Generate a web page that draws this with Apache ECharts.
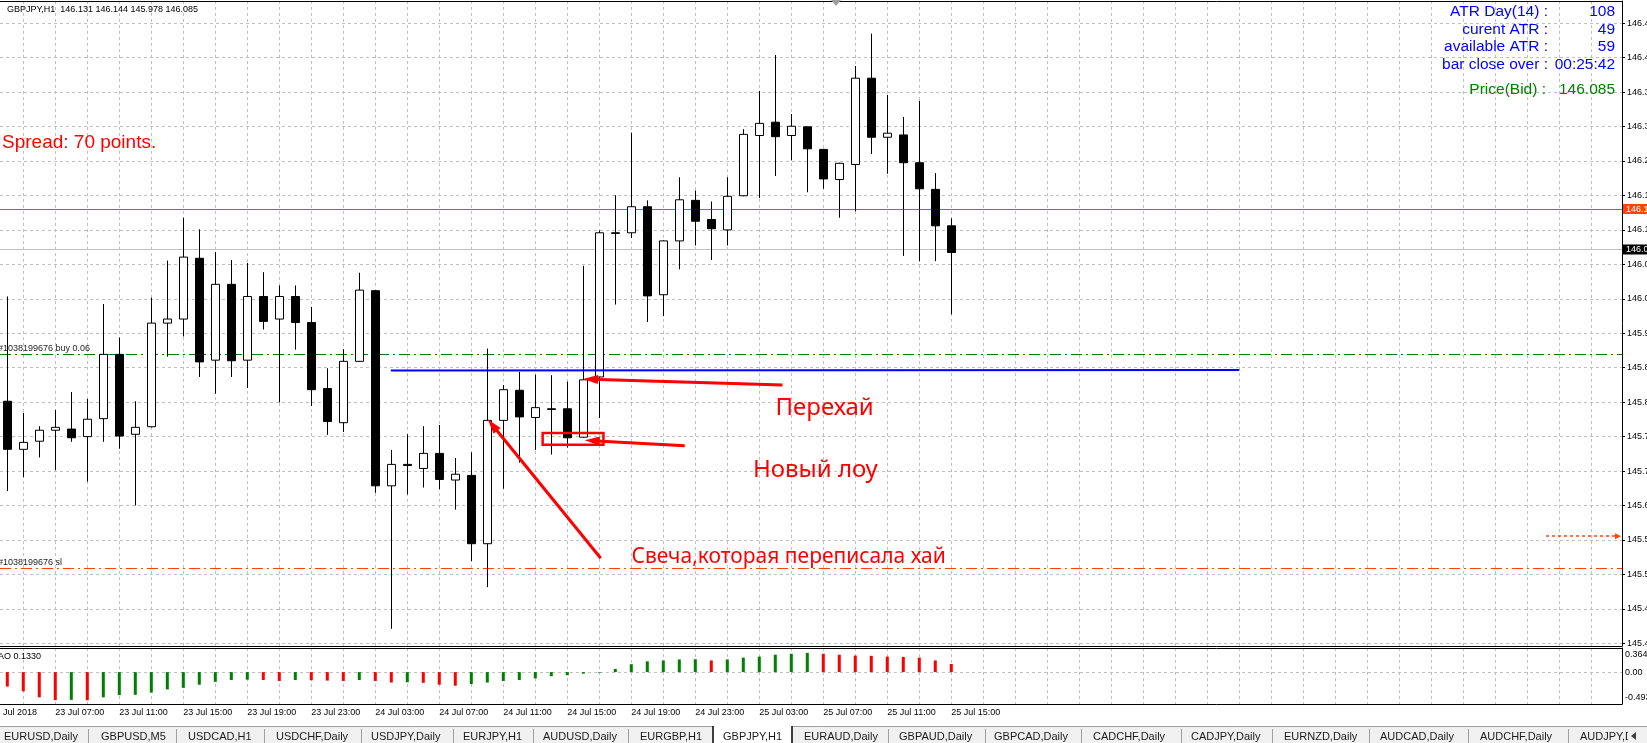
<!DOCTYPE html>
<html>
<head>
<meta charset="utf-8">
<script src="https://cdn.jsdelivr.net/npm/echarts@6/dist/echarts.min.js"></script>
<style>
  html, body { margin: 0; padding: 0; background: #fff; overflow: hidden; }
  #chart { width: 1647px; height: 743px; }
</style>
</head>
<body>
<div id="chart"></div>
<script>
// GBPJPY H1, bar 0 = 23 Jul 04:00
const opens  = [145.828,145.745,145.759,145.778,145.780,145.767,145.798,145.909,145.771,145.784,
                145.963,145.970,146.075,145.899,146.030,145.899,146.009,145.970,146.009,145.964,
                145.850,145.791,145.897,146.019,145.682,145.719,145.712,145.738,145.692,145.700,
                145.582,145.795,145.847,145.800,145.815,145.815,145.766,145.870,146.119,146.119,
                146.164,146.012,146.105,146.175,146.142,146.124,146.183,146.287,146.310,146.287,
                146.302,146.263,146.211,146.237,146.386,146.284,146.288,146.240,146.194,146.131];
const highs  = [146.009,145.808,145.785,145.813,145.844,145.832,145.996,145.938,145.828,146.007,
                146.071,146.145,146.125,146.086,146.072,146.067,146.051,146.028,146.028,145.991,
                145.885,145.918,146.050,146.020,145.744,145.771,145.785,145.787,145.730,145.740,
                145.919,145.856,145.879,145.874,145.873,145.862,146.062,146.123,146.184,146.292,
                146.175,146.106,146.215,146.192,146.173,146.215,146.298,146.364,146.426,146.324,
                146.303,146.264,146.240,146.407,146.463,146.357,146.319,146.347,146.222,146.144];
const lows   = [145.673,145.697,145.731,145.709,145.758,145.689,145.758,145.746,145.648,145.783,
                145.905,145.940,145.870,145.841,145.870,145.851,145.952,145.826,145.917,145.820,
                145.770,145.775,145.896,145.670,145.435,145.667,145.679,145.676,145.641,145.552,
                145.507,145.677,145.722,145.744,145.736,145.748,145.765,145.799,145.995,146.110,
                145.965,145.975,146.056,146.097,146.072,146.097,146.182,146.179,146.217,146.244,
                146.189,146.195,146.145,146.156,146.255,146.221,146.079,146.070,146.070,145.978];
const closes = [145.745,145.757,145.778,145.783,145.765,145.797,145.909,145.768,145.783,145.963,
                145.970,146.077,145.896,146.030,145.898,146.009,145.966,146.009,145.964,145.848,
                145.793,145.897,146.020,145.682,145.719,145.717,145.738,145.693,145.702,145.582,
                145.795,145.848,145.801,145.817,145.814,145.765,145.865,146.119,146.118,146.164,
                146.010,146.105,146.176,146.139,146.126,146.182,146.289,146.308,146.285,146.303,
                146.264,146.212,146.239,146.386,146.284,146.291,146.240,146.195,146.131,146.085];

// Awesome Oscillator
const aoPrevValue = -0.20;
const aoValues = [-0.239,-0.317,-0.416,-0.462,-0.458,-0.465,-0.416,-0.380,-0.375,-0.338,
                  -0.286,-0.260,-0.208,-0.161,-0.130,-0.125,-0.130,-0.146,-0.130,-0.135,
                  -0.140,-0.146,-0.130,-0.146,-0.172,-0.168,-0.177,-0.208,-0.224,-0.198,
                  -0.172,-0.146,-0.130,-0.104,-0.068,-0.052,-0.026,-0.010, 0.052, 0.130,
                   0.177, 0.192, 0.208, 0.212, 0.192, 0.208, 0.239, 0.255, 0.286, 0.302,
                   0.317, 0.302, 0.286, 0.272, 0.268, 0.255, 0.250, 0.239, 0.192, 0.133];

const timeTicks  = [3, 7, 11, 15, 19, 23, 27, 31, 35, 39, 43, 47, 51, 55, 59];
const timeLabels = ['23 Jul 07:00','23 Jul 11:00','23 Jul 15:00','23 Jul 19:00','23 Jul 23:00',
                    '24 Jul 03:00','24 Jul 07:00','24 Jul 11:00','24 Jul 15:00','24 Jul 19:00',
                    '24 Jul 23:00','25 Jul 03:00','25 Jul 07:00','25 Jul 11:00','25 Jul 15:00'];
const priceTicks = [145.410,145.4695,145.529,145.5885,145.648,145.7075,145.767,145.8265,145.886,145.9455,
                    146.005,146.0645,146.124,146.1835,146.243,146.3025,146.362,146.4215,146.481];
const aoTicks = [-0.493, 0, 0.364];

const bidPrice = 146.085, askPrice = 146.155;
const buyPrice = 145.914, slPrice = 145.538;
const trendX = [23.97, 77.0];
const trendY = [145.881, 145.882];

// axis ranges (16 px per bar, first bar at x=7.3)
const X_MIN = -0.45625, X_MAX = 100.91875;
const Y_MIN = 145.40534, Y_MAX = 146.51933;
const AO_MIN = -0.52596, AO_MAX = 0.39696;

const gridX = [];
for (let i = 1; i < 101; i += 2) gridX.push(i);

const candleRows = opens.map((o, i) => [i, o, closes[i], lows[i], highs[i]]);
const aoRows = aoValues.map((v, i) => {
  const prev = i === 0 ? aoPrevValue : aoValues[i - 1];
  return { value: [i, v], itemStyle: { color: v > prev ? '#008000' : '#ff0000' } };
});
const timeMap = {};
timeTicks.forEach((t, k) => { timeMap[t] = timeLabels[k]; });

const FONT = 'Liberation Sans';
const GRID_LINE = { color: '#c0c0c0', width: 1, type: [3, 3] };
const DASH_DOT = [11, 4, 2, 4];

const chart = echarts.init(document.getElementById('chart'));

const infoText = (txt, x, y, color, align) => ({
  type: 'text', x: x, y: y, z: 100,
  style: { text: txt, fill: color, font: '15.5px "' + FONT + '"', align: align, verticalAlign: 'middle' }
});

const tabs = [
  ['EURUSD,Daily', 4], ['GBPUSD,M5', 101], ['USDCAD,H1', 188], ['USDCHF,Daily', 276],
  ['USDJPY,Daily', 371], ['EURJPY,H1', 463], ['AUDUSD,Daily', 543], ['EURGBP,H1', 640],
  ['GBPJPY,H1', 723], ['EURAUD,Daily', 804], ['GBPAUD,Daily', 899], ['GBPCAD,Daily', 994],
  ['CADCHF,Daily', 1093], ['CADJPY,Daily', 1191], ['EURNZD,Daily', 1284], ['AUDCAD,Daily', 1380],
  ['AUDCHF,Daily', 1480], ['AUDJPY,Daily', 1580]
];
const tabSeps = [88, 176, 264, 361, 453, 533, 628, 888, 985, 1081, 1181, 1272, 1369, 1468, 1568];

const graphics = [
  { type: 'text', x: 7, y: 10, z: 100,
    style: { text: 'GBPJPY,H1  146.131 146.144 145.978 146.085', fill: '#000', font: '9px "' + FONT + '"', verticalAlign: 'middle' } },
  { type: 'text', x: 2, y: 143, z: 100,
    style: { text: 'Spread: 70 points.', fill: '#ff0000', font: '19px "' + FONT + '"', verticalAlign: 'middle' } },
  infoText('ATR Day(14) :', 1548, 12, '#0000ff', 'right'),
  infoText('108', 1615, 12, '#0000ff', 'right'),
  infoText('curent ATR :', 1548, 29.5, '#0000ff', 'right'),
  infoText('49', 1615, 29.5, '#0000ff', 'right'),
  infoText('available ATR :', 1548, 47, '#0000ff', 'right'),
  infoText('59', 1615, 47, '#0000ff', 'right'),
  infoText('bar close over :', 1548, 65, '#0000ff', 'right'),
  infoText('00:25:42', 1615, 65, '#0000ff', 'right'),
  infoText('Price(Bid) :', 1546, 90, '#008000', 'right'),
  infoText('146.085', 1615, 90, '#008000', 'right'),
  { type: 'polygon', z: 100, shape: { points: [[831, 0], [841, 0], [836, 6]] }, style: { fill: '#a0a0a0' } },
  { type: 'text', x: -2, y: 657, z: 100,
    style: { text: 'AO 0.1330', fill: '#000', font: '9px "' + FONT + '"', verticalAlign: 'middle' } },
  { type: 'text', x: -9.5, y: 713, z: 100,
    style: { text: '23 Jul 2018', fill: '#000', font: '9px "' + FONT + '"', verticalAlign: 'middle' } },
  // tab bar
  { type: 'rect', z: 90, shape: { x: 0, y: 726, width: 1647, height: 17 }, style: { fill: '#f0f0f0' } },
  { type: 'line', z: 91, shape: { x1: 0, y1: 726.5, x2: 1647, y2: 726.5 }, style: { stroke: '#a0a0a0', lineWidth: 1 } },
  { type: 'rect', z: 92, shape: { x: 713, y: 726, width: 79, height: 17 }, style: { fill: '#ffffff' } },
  { type: 'line', z: 93, shape: { x1: 713, y1: 726, x2: 713, y2: 743 }, style: { stroke: '#000', lineWidth: 1.5 } },
  { type: 'line', z: 93, shape: { x1: 792, y1: 726, x2: 792, y2: 743 }, style: { stroke: '#000', lineWidth: 1.5 } }
];
tabSeps.forEach(x => graphics.push({ type: 'line', z: 93, shape: { x1: x + 0.5, y1: 729, x2: x + 0.5, y2: 743 }, style: { stroke: '#a0a0a0', lineWidth: 1 } }));
tabs.forEach(t => graphics.push({ type: 'text', x: t[1], y: 737, z: 94,
  style: { text: t[0], fill: '#1a1a1a', font: '11px "' + FONT + '"', verticalAlign: 'middle' } }));
graphics.push({ type: 'rect', z: 95, shape: { x: 1628, y: 727, width: 19, height: 16 }, style: { fill: '#f0f0f0' } });
graphics.push({ type: 'polygon', z: 96, shape: { points: [[1631, 736], [1636, 732], [1636, 740]] }, style: { fill: '#404040' } });

const hiddenX = (gridIndex, position) => ({
  gridIndex: gridIndex, type: 'value', min: X_MIN, max: X_MAX, position: position,
  axisLine: { show: true, onZero: false, lineStyle: { color: '#000', width: 1 } },
  axisTick: { show: false }, axisLabel: { show: false }, splitLine: { show: false }
});

chart.setOption({
  animation: false,
  backgroundColor: '#ffffff',
  textStyle: { fontFamily: FONT },
  graphic: graphics,
  grid: [
    { left: 0, right: 25, top: 1, height: 645, containLabel: false, outerBoundsMode: 'none' },
    { left: 0, right: 25, top: 648, height: 56, containLabel: false, outerBoundsMode: 'none' }
  ],
  xAxis: [
    {
      gridIndex: 0, type: 'value', min: X_MIN, max: X_MAX, position: 'bottom',
      axisLine: { show: true, onZero: false, lineStyle: { color: '#000', width: 1 } },
      axisTick: { show: false, customValues: gridX },
      axisLabel: { show: false },
      splitLine: { show: true, lineStyle: GRID_LINE }
    },
    {
      gridIndex: 1, type: 'value', min: X_MIN, max: X_MAX, position: 'bottom',
      axisLine: { show: true, onZero: false, lineStyle: { color: '#000', width: 1 } },
      axisTick: { show: false, customValues: gridX },
      axisLabel: {
        show: true, customValues: timeTicks, formatter: v => timeMap[v] || '',
        align: 'left', margin: 4, fontSize: 9, color: '#000', fontFamily: FONT, hideOverlap: false
      },
      splitLine: { show: true, lineStyle: GRID_LINE }
    },
    hiddenX(0, 'top'),
    hiddenX(1, 'top')
  ],
  yAxis: [
    {
      gridIndex: 0, type: 'value', position: 'right', min: Y_MIN, max: Y_MAX, scale: true,
      axisLine: { show: true, onZero: false, lineStyle: { color: '#000', width: 1 } },
      axisTick: { show: true, length: 3, customValues: priceTicks, lineStyle: { color: '#000' } },
      axisLabel: {
        customValues: priceTicks, formatter: v => v.toFixed(3), margin: 5,
        fontSize: 9, color: '#000', fontFamily: FONT, hideOverlap: false
      },
      splitLine: { show: true, lineStyle: GRID_LINE }
    },
    {
      gridIndex: 1, type: 'value', position: 'right', min: AO_MIN, max: AO_MAX,
      axisLine: { show: true, onZero: false, lineStyle: { color: '#000', width: 1 } },
      axisTick: { show: false, customValues: [0] },
      axisLabel: {
        customValues: aoTicks, formatter: v => (v === 0 ? '0.00' : String(v)), margin: 3,
        fontSize: 9, color: '#000', fontFamily: FONT, hideOverlap: false,
        verticalAlignMinLabel: 'bottom', verticalAlignMaxLabel: 'top'
      },
      splitLine: { show: true, lineStyle: GRID_LINE }
    }
  ],
  series: [
    {
      name: 'GBPJPY', type: 'candlestick', xAxisIndex: 0, yAxisIndex: 0,
      data: candleRows, encode: { x: 0, y: [1, 2, 3, 4] },
      barWidth: 9, z: 2, silent: true,
      itemStyle: {
        color: '#ffffff', color0: '#000000', borderColor: '#000000', borderColor0: '#000000',
        borderColorDoji: '#000000', borderWidth: 1
      },
      markLine: {
        z: 1, silent: true, symbol: ['none', 'none'], animation: false,
        data: [
          { yAxis: askPrice, lineStyle: { color: '#ff4500', width: 1, type: 'solid' },
            label: { show: true, position: 'end', distance: 1, formatter: askPrice.toFixed(3), color: '#fff',
                     backgroundColor: '#ff4500', padding: [1, 3, 0, 3], fontSize: 9, fontFamily: FONT } },
          { yAxis: bidPrice, lineStyle: { color: '#c0c0c0', width: 1, type: 'solid' },
            label: { show: true, position: 'end', distance: 1, formatter: bidPrice.toFixed(3), color: '#fff',
                     backgroundColor: '#000', padding: [1, 3, 0, 3], fontSize: 9, fontFamily: FONT } },
          { yAxis: buyPrice, lineStyle: { color: '#008000', width: 1, type: DASH_DOT },
            label: { show: true, position: 'insideStartTop', distance: [-2, 1], formatter: '#1038199676 buy 0.06',
                     color: '#1f1f1f', fontSize: 9, fontFamily: FONT } },
          { yAxis: slPrice, lineStyle: { color: '#ff4500', width: 1, type: DASH_DOT },
            label: { show: true, position: 'insideStartTop', distance: [-2, 1], formatter: '#1038199676 sl',
                     color: '#1f1f1f', fontSize: 9, fontFamily: FONT } }
        ]
      }
    },
    {
      name: 'trend', type: 'line', xAxisIndex: 0, yAxisIndex: 0,
      data: trendX.map((x, i) => [x, trendY[i]]),
      showSymbol: false, symbol: 'none', z: 3, silent: true,
      lineStyle: { color: '#0000ff', width: 2 },
      markLine: {
        silent: true, symbol: ['none', 'triangle'], symbolSize: [0, 14], animation: false,
        label: { show: false },
        lineStyle: { color: '#ff0000', width: 3, type: 'solid' },
        data: [
          [{ coord: [48.45, 145.856] }, { coord: [36.45, 145.866], symbolSize: [9, 15] }],
          [{ coord: [42.34, 145.751] }, { coord: [36.56, 145.760], symbolSize: [9, 15] }],
          [{ coord: [37.09, 145.557] }, { coord: [30.32, 145.787], symbolSize: [9, 15] }],
          [{ coord: [96.17, 145.595], lineStyle: { color: '#ff4500', width: 1.5, type: [3, 3] } },
           { coord: [100.67, 145.595], symbolSize: [6, 6] }]
        ]
      },
      markArea: {
        silent: true, z: 5,
        itemStyle: { color: 'rgba(0,0,0,0)', borderColor: '#ff0000', borderWidth: 2.5 },
        data: [[{ coord: [33.46, 145.773] }, { coord: [37.26, 145.753] }]]
      },
      markPoint: {
        silent: true, symbol: 'rect', symbolSize: 1, animation: false,
        itemStyle: { color: 'rgba(0,0,0,0)' },
        label: { show: true, position: 'right', distance: 0, formatter: '{b}', color: '#ff0000', fontFamily: 'Noto Sans' },
        data: [
          { name: 'Перехай', coord: [47.98, 145.816], label: { fontSize: 24 } },
          { name: 'Новый лоу', coord: [46.57, 145.709], label: { fontSize: 24 } },
          { name: 'Свеча,которая переписала хай', coord: [38.98, 145.559], label: { fontSize: 21 } }
        ]
      }
    },
    {
      name: 'AO', type: 'bar', xAxisIndex: 1, yAxisIndex: 1,
      data: aoRows, barWidth: 3, z: 2, silent: true
    }
  ]
});
</script>
</body>
</html>
